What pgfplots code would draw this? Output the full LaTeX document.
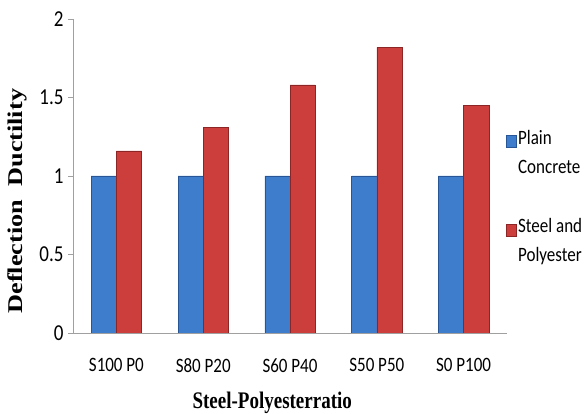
\documentclass[border=0pt]{standalone}
\usepackage{pgfplots}
\pgfplotsset{compat=1.18}
\usepackage{fontspec}
\setmainfont{Carlito}
\newfontfamily\tnr{Liberation Serif}
\definecolor{pcblue}{RGB}{62,124,204}
\definecolor{pcblueedge}{RGB}{40,85,150}
\definecolor{spred}{RGB}{204,62,60}
\definecolor{spredge}{RGB}{140,38,38}
\definecolor{axgray}{RGB}{160,160,160}
\newcommand{\vs}[1]{\scalebox{1}[1.2]{#1}}
\begin{document}
\begin{tikzpicture}
\useasboundingbox (0,0) rectangle (585pt,414pt);
\begin{axis}[
  at={(73pt,81pt)}, anchor=south west,
  scale only axis, width=434pt, height=314pt,
  ybar=0pt, bar width=0.29,
  xmin=-0.5, xmax=4.5, ymin=0, ymax=2,
  xtick={0,1,2,3,4},
  xticklabels={\vs{S100 P0},\vs{S80 P20},\vs{S60 P40},\vs{S50 P50},\vs{S0 P100}},
  minor xtick={-0.5,0.5,1.5,2.5,3.5,4.5},
  ytick={0,0.5,1,1.5,2},
  yticklabels={\vs{0},\vs{0.5},\vs{1},\vs{1.5},\vs{2}},
  axis lines*=left,
  axis line style={axgray,-},
  tick align=outside,
  major tick length=5pt,
  minor tick length=8pt,
  xtick style={draw=none},
  minor x tick style={axgray},
  ytick style={axgray},
  xticklabel style={font=\fontsize{17}{20}\selectfont, yshift=-17pt},
  yticklabel style={font=\fontsize{19}{22}\selectfont, xshift=-1pt},
  xlabel={\scalebox{1}[1.25]{\tnr\bfseries Steel-Polyesterratio}},
  xlabel style={font=\fontsize{19}{22}\selectfont, at={(rel axis cs:0.459,-0.223)}, anchor=center},
  ylabel={\scalebox{1.25}[1]{\tnr\bfseries Deflection\ \ Ductility}},
  ylabel style={font=\fontsize{21}{24}\selectfont, at={(rel axis cs:-0.129,0.42)}, anchor=center},
  legend style={draw=none, fill=none, at={(rel axis cs:0.99,0.66)}, anchor=north west,
    font=\fontsize{17}{29}\selectfont, cells={align=left, anchor=west}, row sep=40pt},
  legend image code/.code={\fill[#1] (0pt,5pt) rectangle (10pt,17pt);},
]
\addplot[fill=pcblue, draw=pcblueedge, line width=0.3pt] coordinates {(0,1) (1,1) (2,1) (3,1) (4,1)};
\addplot[fill=spred, draw=spredge, line width=0.3pt] coordinates {(0,1.16) (1,1.31) (2,1.58) (3,1.82) (4,1.45)};
\legend{\vs{Plain}\\\vs{Concrete}, \vs{Steel and}\\\vs{Polyester}}
\end{axis}
\end{tikzpicture}
\end{document}
